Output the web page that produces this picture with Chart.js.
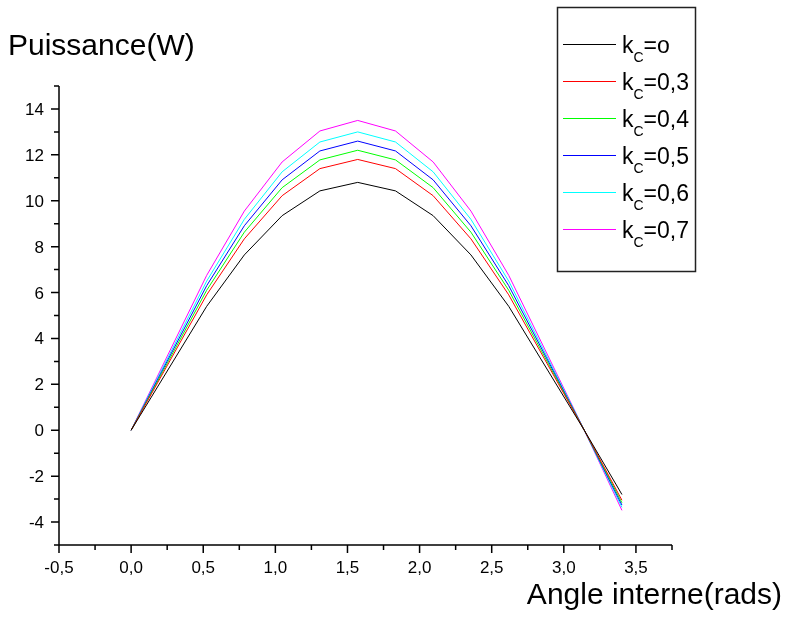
<!DOCTYPE html>
<html>
<head>
<meta charset="utf-8">
<title>Puissance</title>
<script src="https://cdn.jsdelivr.net/npm/chart.js@4.4.1/dist/chart.umd.min.js"></script>
<style>
  body { margin: 0; background: #fff; }
  #graficoPuissance { display: block; }
</style>
</head>
<body>
<canvas id="graficoPuissance" width="785" height="623"></canvas>
<script>
// angle interne (rads)
const angles = [0, 0.524, 0.785, 1.047, 1.309, 1.571, 1.833, 2.094, 2.356, 2.618, 3.142, 3.403];

// puissance (W) pour chaque kc
const kc0  = [0, 5.40, 7.64, 9.35, 10.43, 10.80, 10.43, 9.35, 7.64, 5.40, 0, -2.80];
const kc03 = [0, 5.90, 8.34, 10.22, 11.40, 11.80, 11.40, 10.22, 8.34, 5.90, 0, -3.05];
const kc04 = [0, 6.10, 8.63, 10.57, 11.78, 12.20, 11.78, 10.57, 8.63, 6.10, 0, -3.16];
const kc05 = [0, 6.30, 8.91, 10.91, 12.17, 12.60, 12.17, 10.91, 8.91, 6.30, 0, -3.26];
const kc06 = [0, 6.50, 9.19, 11.26, 12.56, 13.00, 12.56, 11.26, 9.19, 6.50, 0, -3.36];
const kc07 = [0, 6.75, 9.55, 11.69, 13.04, 13.50, 13.04, 11.69, 9.55, 6.75, 0, -3.49];

const legendLabels = ['=o', '=0,3', '=0,4', '=0,5', '=0,6', '=0,7'];
const xTicks = [-0.5, 0, 0.5, 1, 1.5, 2, 2.5, 3, 3.5];
const yTicks = [-4, -2, 0, 2, 4, 6, 8, 10, 12, 14];

document.addEventListener("DOMContentLoaded", function () {
  const ctx = document.getElementById('graficoPuissance').getContext('2d');
  const fontName = 'Liberation Sans, Arial, sans-serif';

  const series = [kc0, kc03, kc04, kc05, kc06, kc07];
  const colors = ['#000000', '#ff0000', '#00ff00', '#0000ff', '#00ffff', '#ff00ff'];

  const datasets = series.map((vals, i) => ({
    label: 'kc' + legendLabels[i],
    data: vals.map((v, j) => ({ x: angles[j], y: v })),
    borderColor: colors[i],
    borderWidth: 1,
    pointRadius: 0,
    showLine: true,
    fill: false
  }));

  // axes, graduations, titres et légende
  const decorations = {
    id: 'decorations',
    afterDraw(chart) {
      const c = chart.ctx;
      const xs = chart.scales.x, ys = chart.scales.y;
      const area = chart.chartArea;
      c.save();
      c.strokeStyle = '#000';
      c.lineWidth = 1.5;
      c.beginPath();
      // axes
      c.moveTo(area.left, area.top);
      c.lineTo(area.left, area.bottom);
      c.lineTo(area.right, area.bottom);
      // graduations x
      for (let v = -0.5; v <= 3.76; v += 0.25) {
        const px = xs.getPixelForValue(v);
        const major = Math.abs(v * 2 - Math.round(v * 2)) < 1e-6;
        c.moveTo(px, area.bottom);
        c.lineTo(px, area.bottom + (major ? 8 : 5));
      }
      // graduations y
      for (let v = -5; v <= 15; v += 1) {
        const py = ys.getPixelForValue(v);
        const major = v % 2 === 0;
        c.moveTo(area.left - (major ? 8 : 5), py);
        c.lineTo(area.left, py);
      }
      c.stroke();

      c.fillStyle = '#000';
      c.font = '17px ' + fontName;
      c.textBaseline = 'alphabetic';
      c.textAlign = 'center';
      xTicks.forEach(v => {
        c.fillText(v.toFixed(1).replace('.', ','), xs.getPixelForValue(v), 573);
      });
      c.textAlign = 'right';
      yTicks.forEach(v => {
        c.fillText(String(v), 44, ys.getPixelForValue(v) + 6);
      });

      c.font = '30px ' + fontName;
      c.textAlign = 'left';
      c.fillText('Puissance(W)', 8, 55);
      c.textAlign = 'right';
      c.fillText('Angle interne(rads)', 782, 604);

      // légende
      c.lineWidth = 1.5;
      c.strokeStyle = '#222';
      c.strokeRect(557.5, 7.5, 138, 264);
      c.textAlign = 'left';
      legendLabels.forEach((lab, i) => {
        const y = 44.5 + i * 37;
        c.strokeStyle = colors[i];
        c.lineWidth = 1;
        c.beginPath();
        c.moveTo(563, y);
        c.lineTo(616, y);
        c.stroke();
        let x = 622;
        c.font = '23px ' + fontName;
        c.fillText('k', x, y + 8);
        x += c.measureText('k').width;
        c.font = '14px ' + fontName;
        c.fillText('C', x, y + 17);
        x += c.measureText('C').width;
        c.font = '23px ' + fontName;
        c.fillText(lab, x, y + 8);
      });
      c.restore();
    }
  };

  const config = {
    type: 'scatter',
    data: { datasets: datasets },
    options: {
      responsive: false,
      animation: false,
      layout: {
        padding: { left: 59, top: 86, right: 113, bottom: 78 }
      },
      plugins: {
        legend: { display: false },
        tooltip: { enabled: false }
      },
      scales: {
        x: { type: 'linear', min: -0.5, max: 3.75, display: false },
        y: { min: -5, max: 15, display: false }
      }
    },
    plugins: [decorations]
  };

  new Chart(ctx, config);
});
</script>
</body>
</html>
